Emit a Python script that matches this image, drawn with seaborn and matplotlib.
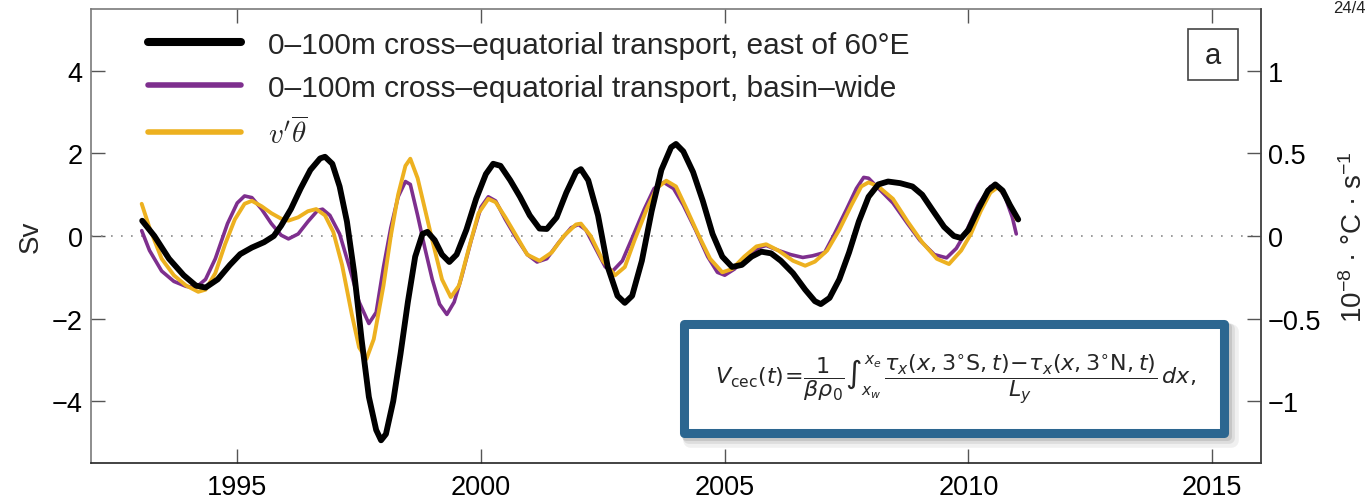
import matplotlib
matplotlib.use("Agg")
import matplotlib.pyplot as plt
from matplotlib.lines import Line2D
from matplotlib.patches import Rectangle
import pandas as pd
import seaborn as sns

# 0-100 m cross-equatorial transport east of 60°E (Sv)
east_year = [1993.05, 1993.3, 1993.6, 1993.9, 1994.15, 1994.35, 1994.6, 1994.85, 1995.06, 1995.3,
             1995.55, 1995.75, 1995.9, 1996.1, 1996.3, 1996.5, 1996.7, 1996.8, 1996.95, 1997.1,
             1997.25, 1997.4, 1997.55, 1997.7, 1997.85, 1997.95, 1998.05, 1998.2, 1998.35, 1998.5,
             1998.65, 1998.8, 1998.9, 1999.05, 1999.2, 1999.35, 1999.5, 1999.7, 1999.9, 2000.1,
             2000.25, 2000.4, 2000.6, 2000.8, 2001.0, 2001.2, 2001.35, 2001.55, 2001.75, 2001.95,
             2002.05, 2002.2, 2002.4, 2002.6, 2002.8, 2002.95, 2003.1, 2003.3, 2003.5, 2003.7,
             2003.9, 2004.0, 2004.15, 2004.35, 2004.55, 2004.75, 2004.95, 2005.15, 2005.35, 2005.55,
             2005.75, 2005.95, 2006.15, 2006.4, 2006.65, 2006.85, 2006.97, 2007.15, 2007.35, 2007.55,
             2007.75, 2007.95, 2008.15, 2008.35, 2008.6, 2008.85, 2009.05, 2009.25, 2009.5, 2009.7,
             2009.85, 2010.0, 2010.2, 2010.4, 2010.55, 2010.7, 2010.85, 2011.02]
east_sv = [0.37, 0.0, -0.55, -0.95, -1.2, -1.25, -1.05, -0.7, -0.44, -0.28,
           -0.15, 0.0, 0.25, 0.65, 1.15, 1.6, 1.88, 1.92, 1.75, 1.2,
           0.35, -0.9, -2.5, -3.9, -4.7, -4.95, -4.8, -4.0, -2.85, -1.6,
           -0.5, 0.05, 0.1, -0.1, -0.45, -0.63, -0.45, 0.15, 0.9, 1.5,
           1.75, 1.7, 1.35, 0.95, 0.5, 0.18, 0.17, 0.45, 1.05, 1.55,
           1.62, 1.35, 0.5, -0.75, -1.45, -1.62, -1.45, -0.6, 0.6, 1.6,
           2.15, 2.23, 2.05, 1.55, 0.85, 0.05, -0.5, -0.75, -0.7, -0.5,
           -0.38, -0.42, -0.6, -0.9, -1.3, -1.58, -1.65, -1.5, -1.05, -0.4,
           0.35, 0.95, 1.25, 1.32, 1.28, 1.2, 1.0, 0.65, 0.22, 0.0,
           -0.05, 0.15, 0.65, 1.1, 1.25, 1.1, 0.75, 0.4]

# 0-100 m cross-equatorial transport, basin-wide (Sv)
basin_year = [1993.04, 1993.2, 1993.45, 1993.7, 1993.95, 1994.15, 1994.35, 1994.55, 1994.8, 1995.0,
              1995.15, 1995.3, 1995.5, 1995.7, 1995.9, 1996.05, 1996.25, 1996.45, 1996.65, 1996.75,
              1996.9, 1997.1, 1997.3, 1997.5, 1997.7, 1997.85, 1998.0, 1998.15, 1998.3, 1998.45,
              1998.55, 1998.7, 1998.85, 1999.0, 1999.15, 1999.3, 1999.45, 1999.6, 1999.8, 2000.0,
              2000.15, 2000.3, 2000.5, 2000.7, 2000.95, 2001.15, 2001.35, 2001.6, 2001.85, 2002.0,
              2002.15, 2002.35, 2002.55, 2002.7, 2002.9, 2003.1, 2003.35, 2003.55, 2003.75, 2003.95,
              2004.15, 2004.4, 2004.65, 2004.85, 2005.0, 2005.2, 2005.45, 2005.7, 2005.85, 2006.1,
              2006.35, 2006.6, 2006.8, 2007.05, 2007.25, 2007.5, 2007.7, 2007.85, 2007.95, 2008.2,
              2008.45, 2008.75, 2009.0, 2009.3, 2009.55, 2009.75, 2009.95, 2010.2, 2010.45, 2010.6,
              2010.75, 2010.9, 2010.98]
basin_sv = [0.13, -0.35, -0.85, -1.1, -1.22, -1.25, -1.05, -0.55, 0.3, 0.8,
            0.97, 0.93, 0.65, 0.3, 0.02, -0.07, 0.05, 0.35, 0.62, 0.65,
            0.5, 0.05, -0.75, -1.6, -2.12, -1.85, -0.75, 0.2, 0.95, 1.32,
            1.25, 0.5, -0.3, -1.05, -1.65, -1.9, -1.6, -1.0, -0.1, 0.7,
            0.95, 0.85, 0.4, 0.0, -0.45, -0.63, -0.55, -0.15, 0.2, 0.28,
            0.15, -0.3, -0.75, -0.85, -0.6, -0.05, 0.65, 1.15, 1.3, 1.15,
            0.75, 0.15, -0.5, -0.88, -0.95, -0.8, -0.5, -0.28, -0.23, -0.35,
            -0.45, -0.52, -0.48, -0.4, 0.05, 0.65, 1.15, 1.42, 1.4, 1.1,
            0.8, 0.3, -0.1, -0.45, -0.53, -0.3, 0.1, 0.75, 1.2, 1.2,
            0.95, 0.45, 0.05]

# v'theta-bar heat-advection term (1e-8 °C s^-1), right axis
vtheta_year = [1993.04, 1993.2, 1993.45, 1993.7, 1993.95, 1994.2, 1994.35, 1994.55, 1994.75, 1994.95,
               1995.15, 1995.3, 1995.5, 1995.7, 1995.9, 1996.05, 1996.25, 1996.45, 1996.62, 1996.8,
               1996.97, 1997.15, 1997.35, 1997.5, 1997.65, 1997.8, 1998.0, 1998.15, 1998.3, 1998.45,
               1998.55, 1998.7, 1998.85, 1999.0, 1999.2, 1999.38, 1999.55, 1999.75, 1999.95, 2000.15,
               2000.3, 2000.5, 2000.7, 2000.95, 2001.2, 2001.45, 2001.7, 2001.95, 2002.05, 2002.25,
               2002.5, 2002.75, 2002.95, 2003.15, 2003.4, 2003.6, 2003.8, 2004.0, 2004.2, 2004.45,
               2004.7, 2004.95, 2005.15, 2005.4, 2005.65, 2005.85, 2006.1, 2006.4, 2006.65, 2006.85,
               2007.1, 2007.35, 2007.6, 2007.8, 2007.95, 2008.15, 2008.45, 2008.75, 2009.05, 2009.35,
               2009.6, 2009.85, 2010.05, 2010.25, 2010.45, 2010.6, 2010.75, 2010.9, 2010.98]
vtheta_val = [0.195, 0.05, -0.138, -0.238, -0.3, -0.338, -0.325, -0.225, -0.05, 0.1,
              0.195, 0.213, 0.18, 0.138, 0.105, 0.093, 0.113, 0.15, 0.163, 0.125,
              0.025, -0.175, -0.475, -0.675, -0.745, -0.625, -0.3, 0.0, 0.25, 0.425,
              0.468, 0.35, 0.163, -0.025, -0.263, -0.37, -0.3, -0.075, 0.138, 0.225,
              0.205, 0.113, 0.013, -0.113, -0.15, -0.1, 0.0, 0.07, 0.075, 0.0,
              -0.15, -0.238, -0.188, -0.025, 0.163, 0.288, 0.335, 0.3, 0.175, 0.013,
              -0.138, -0.22, -0.2, -0.125, -0.063, -0.05, -0.088, -0.15, -0.18, -0.155,
              -0.088, 0.038, 0.188, 0.3, 0.325, 0.3, 0.225, 0.088, -0.038, -0.138,
              -0.17, -0.088, 0.013, 0.15, 0.263, 0.295, 0.25, 0.163, 0.103]

x_ticks = [1995, 2000, 2005, 2010, 2015]
left_ticks = [-4, -2, 0, 2, 4]
right_ticks = [-1, -0.5, 0, 0.5, 1]
right_tick_labels = ["\u22121", "\u22120.5", "0", "0.5", "1"]
series_labels = ["0\u2013100m cross\u2013equatorial transport, east of 60\u00b0E",
                 "0\u2013100m cross\u2013equatorial transport, basin\u2013wide",
                 r"$v'\overline{\theta}$"]

east_df = pd.DataFrame({"year": east_year, "value": east_sv})
basin_df = pd.DataFrame({"year": basin_year, "value": basin_sv})
vtheta_df = pd.DataFrame({"year": vtheta_year, "value": vtheta_val})

BLACK = "#000000"
PURPLE = "#7E2F8E"
GOLD = "#EDB120"
FRAME = "#7a7a7a"

sns.set_theme(style="white")
plt.rcParams["font.family"] = ["Liberation Sans", "DejaVu Sans"]
plt.rcParams["mathtext.fontset"] = "custom"
plt.rcParams["mathtext.rm"] = "Liberation Sans"
plt.rcParams["mathtext.it"] = "Liberation Sans:italic"
plt.rcParams["mathtext.bf"] = "Liberation Sans:bold"

fig = plt.figure(figsize=(13.69, 5.02), dpi=100)
rect = [0.06647, 0.0757, 0.85464, 0.90438]
ax = fig.add_axes(rect)
ax2 = ax.twinx()
# transparent overlay sharing the left scale so the thick black curve sits on top
ax3 = fig.add_axes(rect, sharex=ax, sharey=ax)
ax3.set_axis_off()

ax.axhline(0, color="#8a8a8a", lw=1.2, ls=(0, (1, 5)), zorder=1)

sns.lineplot(data=basin_df, x="year", y="value", ax=ax, color=PURPLE, lw=2.6,
             estimator=None, sort=False, legend=False)
sns.lineplot(data=vtheta_df, x="year", y="value", ax=ax2, color=GOLD, lw=2.8,
             estimator=None, sort=False, legend=False)
sns.lineplot(data=east_df, x="year", y="value", ax=ax3, color=BLACK, lw=4.2,
             estimator=None, sort=False, legend=False)

ax.set_xlim(1992, 2016)
ax.set_ylim(-5.5, 5.5)
ax2.set_ylim(-1.375, 1.375)

ax.set_xticks(x_ticks)
ax.set_xticklabels([str(t) for t in x_ticks])
ax.set_yticks(left_ticks)
ax.set_yticklabels([str(t).replace("-", "\u2212") for t in left_ticks])
ax2.set_yticks(right_ticks)
ax2.set_yticklabels(right_tick_labels)

ax.tick_params(axis="x", direction="in", length=10, width=1, color="#555555",
               top=True, bottom=True, labelsize=19.5, pad=8, labelcolor="black")
ax.tick_params(axis="y", direction="in", length=10, width=1, color="#555555",
               left=True, right=False, labelsize=19.5, pad=6, labelcolor="black")
ax2.tick_params(axis="y", direction="in", length=10, width=1, color="#555555",
                right=True, left=False, labelsize=19.5, pad=5, labelcolor="black")

for name, sp in ax.spines.items():
    sp.set_visible(True)
    sp.set_linewidth(1.2)
    sp.set_color("#222222" if name == "bottom" else FRAME)
for name, sp in ax2.spines.items():
    sp.set_visible(name == "right")
    sp.set_linewidth(1.2)
    sp.set_color("#444444")

ax.set_xlabel("")
ax.set_ylabel("Sv", fontsize=20)
ax.yaxis.set_label_coords(-0.04, 0.5)
ax2.set_ylabel("10$^{\u22128}$ \u00b7 \u00b0C \u00b7 s$^{\u22121}$", fontsize=20, rotation=90)
ax2.yaxis.set_label_coords(1.068, 0.5)

# legend
handles = [Line2D([], [], color=BLACK, lw=5.8),
           Line2D([], [], color=PURPLE, lw=4.0),
           Line2D([], [], color=GOLD, lw=4.0)]
leg = ax3.legend(handles, series_labels, loc="upper left", bbox_to_anchor=(0.049, 0.952),
                 frameon=False, fontsize=21.5, handlelength=3.1, handletextpad=0.9,
                 labelspacing=0.5, borderpad=0, borderaxespad=0)
leg.get_texts()[2].set_math_fontfamily("cm")
leg.get_texts()[2].set_fontsize(21)

# panel tag
ax3.add_patch(Rectangle((0.9376, 0.8436), 0.0427, 0.1123, transform=ax3.transAxes,
                        facecolor="white", edgecolor="#444444", lw=1.2, zorder=5))
ax3.text(0.9376 + 0.0427 / 2, 0.8436 + 0.1123 / 2, "a", transform=ax3.transAxes,
         ha="center", va="center", fontsize=21, zorder=6)

# formula inset with drop shadow
W, H = 1369.0, 502.0
bx0, bx1, by0, by1 = 683.5, 1223.5, 324.5, 433.5
for k, a in enumerate([0.10, 0.08, 0.06]):
    off = 3 + 2 * k
    fig.patches.append(Rectangle(((bx0 + off) / W, 1 - (by1 + off) / H), (bx1 - bx0) / W,
                                 (by1 - by0) / H, transform=fig.transFigure,
                                 facecolor="none", edgecolor="black", alpha=a, lw=6.5 + 2 * k,
                                 joinstyle="round", zorder=10))
fig.patches.append(Rectangle((bx0 / W, 1 - by1 / H), (bx1 - bx0) / W, (by1 - by0) / H,
                             transform=fig.transFigure, facecolor="white",
                             edgecolor="#2C6690", lw=6.5, joinstyle="round", zorder=11))
formula = (r"$V_{\mathrm{cec}}(t)\!=\!\dfrac{1}{\beta\rho_0}\int_{x_w}^{x_e}\,"
           r"\dfrac{\tau_x(x,3^{\circ}\mathrm{S},t)\!-\!\tau_x(x,3^{\circ}\mathrm{N},t)}{L_y}\,dx,$")
fig.text(955 / W, 1 - 380 / H, formula, ha="center", va="center", fontsize=16,
         math_fontfamily="dejavusans", zorder=12)

# page marker in the top-right corner
fig.text(1366 / W, 1 - 1 / H, "24/4", ha="right", va="top", fontsize=12, color="#222222")

fig.savefig("out.png", dpi=100)
